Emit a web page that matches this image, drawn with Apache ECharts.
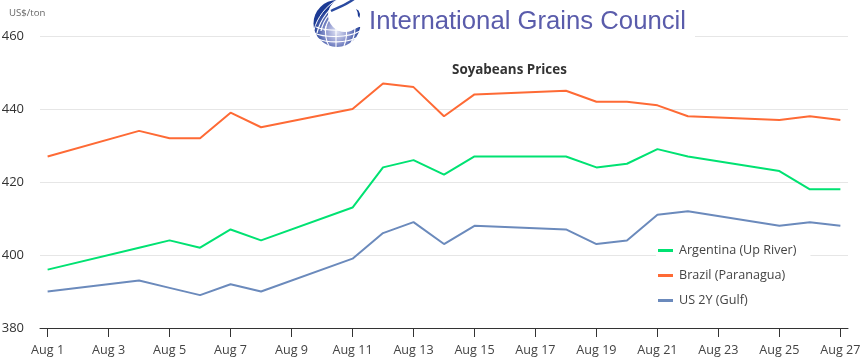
<!DOCTYPE html>
<html><head><meta charset="utf-8">
<style>html,body{margin:0;padding:0;background:#fff}#c{width:861px;height:364px}</style>
<script src="https://cdn.jsdelivr.net/npm/echarts@6/dist/echarts.min.js"></script>
</head><body><div id="c"></div>
<script>
const days = [1,4,5,6,7,8,11,12,13,14,15,18,19,20,21,22,25,26,27];
const argentina = [396,402,404,402,407,404,413,424,426,422,427,427,424,425,429,427,423,418,418];
const brazil = [427,434,432,432,439,435,440,447,446,438,444,445,442,442,441,438,437,438,437];
const usGulf = [390,393,391,389,392,390,399,406,409,403,408,407,403,404,411,412,408,409,408];
const tickDays = [1,3,5,7,9,11,13,15,17,19,21,23,25,27];
const pairs = v => days.map((d,i)=>[d,v[i]]);
const font = '"Open Sans","Noto Sans",sans-serif';
const chart = echarts.init(document.getElementById('c'));
const mk = (name,data,color)=>({name,type:'line',data:pairs(data),showSymbol:false,symbol:'none',
  lineStyle:{color,width:2},itemStyle:{color},z:2});
// decorative logo parts
const Z = 51;
const wl = (x1,y1,cx1,cy1,cx2,cy2,x2,y2,w,c)=>({type:'bezierCurve',z:Z+1,
  shape:{x1,y1,cpx1:cx1,cpy1:cy1,cpx2:cx2,cpy2:cy2,x2,y2},style:{stroke:c||'#fff',lineWidth:w||1,fill:null}});
const logo = [
  {type:'rect',shape:{x:310,y:0,width:385,height:40},style:{fill:'#fff'},z:50},
  {type:'circle',z:Z,shape:{cx:337,cy:23.5,r:23.5},style:{fill:new echarts.graphic.RadialGradient(0.5,0.68,0.6,[{offset:0,color:'#dfe2f4'},{offset:0.4,color:'#8f98cf'},{offset:0.85,color:'#1c3a94'},{offset:1,color:'#1c3a94'}])}},
  // white upper right area
  {type:'circle',z:Z+1,shape:{cx:345,cy:15,r:17},style:{fill:'#fff'}},
  {type:'polygon',z:Z+1,shape:{points:[[338,-1],[363,-1],[363,27],[352,27]]},style:{fill:'#fff'}},
  // right crescent
  {type:'polygon',z:Z+2,shape:{points:[[356,9],[358.5,10.5],[360,14],[359.5,18],[358,16],[357.5,12]]},style:{fill:'#1c3a94'}},
  // stalks
  wl(317,33,320,20,330,6,344,-1,1.2),
  wl(321,31,323,20,332,8,347,0,1.2),
  wl(314,30,317,18,326,5,339,-1,1),
  wl(325,31,326,22,332,13,342,8,1.2),
  // wheat ear
  wl(331,11,337,8,346,5,354,-1,2.4,'#2a4aa0'),
  // latitudes
  wl(314,33,325,38,348,38,360,31,1.1),
  wl(318,39,328,43,346,43,356,38,1.1),
  wl(316,27,326,31,348,32,360,26,1.1),
  // meridians
  wl(326,26,325,33,326,41,329,46,1.1),
  wl(336,27,336,33,336,41,336,47,1.1),
  wl(346,27,347,33,346,41,344,46,1.1),
  wl(355,26,355,32,354,38,351,43,1.1),
  {type:'text',left:369,top:9,z:Z+3,style:{text:'International Grains Council',fill:'#5a5cab',fontSize:25.7,fontFamily:'"Liberation Sans",Arial,sans-serif'}}
];
chart.setOption({
  animation:false,
  textStyle:{fontFamily:font},
  title:{text:'Soyabeans Prices',left:452,top:62,
    textStyle:{fontSize:13.4,fontWeight:'bold',color:'#333',fontFamily:font},padding:[2,0,2,0]},
  grid:{left:40,right:13,top:36,bottom:36,outerBoundsMode:'none'},
  legend:{orient:'vertical',left:656,top:239,itemWidth:15,itemHeight:3,itemGap:10,icon:'rect',
    backgroundColor:'#fff',padding:[4,14,4,2],
    textStyle:{fontSize:12.6,color:'#444',fontFamily:font,lineHeight:15,padding:[0,0,0,1]},
    data:['Argentina (Up River)','Brazil (Paranagua)','US 2Y (Gulf)']},
  xAxis:{type:'value',min:0.75,max:27.25,
    splitLine:{show:false},
    axisLine:{show:true,lineStyle:{color:'#333'}},
    axisTick:{show:true,length:9,lineStyle:{color:'#333'},customValues:tickDays},
    axisLabel:{color:'#444',fontSize:12.6,margin:16,customValues:tickDays,showMinLabel:true,showMaxLabel:true,
      formatter:v=>'Aug '+v}},
  yAxis:{type:'value',min:380,max:460,interval:20,
    name:'US$/ton',nameLocation:'end',nameGap:18,
    nameTextStyle:{color:'#666',fontSize:9.6,align:'left',padding:[0,0,0,-31]},
    axisLine:{show:false},axisTick:{show:false},
    splitLine:{lineStyle:{color:'#e6e6e6'}},
    axisLabel:{color:'#333',fontSize:13,margin:16}},
  series:[mk('Argentina (Up River)',argentina,'#00e272'),mk('Brazil (Paranagua)',brazil,'#fe6a35'),mk('US 2Y (Gulf)',usGulf,'#6b8abc')],
  graphic:logo
});
</script></body></html>
